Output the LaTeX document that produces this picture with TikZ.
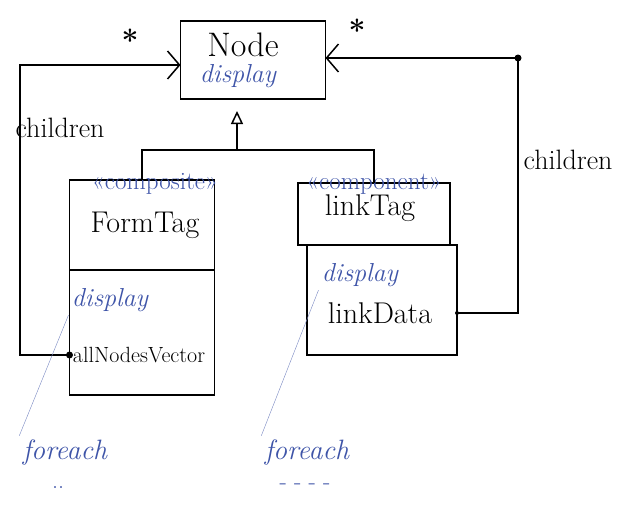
\documentclass[tikz,border=0pt]{standalone}
\usetikzlibrary{arrows.meta,positioning}
\definecolor{inkblue}{RGB}{62,84,168}
\tikzset{
  cls/.style={draw, line width=1.5pt, inner sep=0pt, outer sep=0pt},
  big/.style={font=\fontsize{30}{32}\selectfont},
  mid/.style={font=\fontsize{22}{24}\selectfont},
  blu/.style={text=inkblue, font=\fontsize{26}{28}\selectfont\itshape},
  stereo/.style={text=inkblue, font=\fontsize{25}{27}\selectfont},
  hand/.style={font=\fontsize{28}{30}\selectfont},
  assoc/.style={line width=1.5pt, -{Straight Barb[length=12pt,width=28pt]}},
  genz/.style={line width=1.5pt, -{Triangle[open,length=13pt,width=12pt]}, shorten >=12pt},
  note/.style={thin, inkblue!70},
}
\begin{document}
\begin{tikzpicture}[x=1pt, y=-1pt]
  \useasboundingbox (0,0) rectangle (623,506);

  % Klassen
  \node[cls, minimum width=145pt, minimum height=78pt] (nodecls) at (253,60) {};
  \node[cls, minimum width=145pt, minimum height=90pt] (formtop) at (142,225) {};
  \node[cls, minimum width=145pt, minimum height=125pt, below=0pt of formtop] (formbot) {};
  \node[cls, minimum width=152pt, minimum height=62pt] (linktop) at (374,214) {};
  \node[cls, minimum width=150pt, minimum height=110pt, below=0pt of linktop, xshift=8pt] (linkbot) {};

  % Texte
  \node[big, font=\fontsize{34}{36}\selectfont] (nodename) at (243,45) {Node};
  \node[blu] (nodeop) at (238,76) {display};
  \node[stereo] (formst) at (155,184) {«composite»};
  \node[big] (formname) at (145,225) {FormTag};
  \node[blu] (formop) at (110,300) {display};
  \node[mid] (formvec) at (139,355) {allNodesVector};
  \node[stereo] (linkst) at (374,184) {«component»};
  \node[big] (linkname) at (370,208) {linkTag};
  \node[blu] (linkop) at (360,275) {display};
  \node[big] (linkdat) at (380,313) {linkData};

  % Vererbung
  \coordinate (genj) at (237,150);
  \draw[line width=1.5pt] (formtop.north) |- (genj) -| (linktop.north);
  \draw[genz] (genj) -- (genj |- nodecls.south);

  % Assoziationen
  \coordinate (lbend) at (20,65);
  \coordinate (rbend) at (518,58);
  \draw[assoc] (formbot.west |- formvec) -| (lbend) -- (nodecls.west |- lbend);
  \draw[assoc] (linkbot.east |- linkdat) -| (rbend) -- (nodecls.east |- rbend);
  \fill (formbot.west |- formvec) circle (3.5pt);
  \fill (linkbot.east |- linkdat) circle (2pt);
  \fill (rbend) circle (3.5pt);
  \node[hand, font=\bfseries\fontsize{30}{32}\selectfont] (lstar) at (130,40) {*};
  \node[hand, font=\bfseries\fontsize{30}{32}\selectfont] (rstar) at (357,30) {*};
  \node[hand] (lchild) at (60,128) {children};
  \node[hand] (rchild) at (568,160) {children};

  % Notizen
  \node[blu, font=\fontsize{28}{30}\selectfont\itshape] (fe1) at (65,452) {foreach};
  \node[blu, font=\fontsize{28}{30}\selectfont\itshape] (fe2) at (307,452) {foreach};
  \node[blu, font=\fontsize{24}{24}\selectfont, inner sep=0pt] (dots1) at (58,488) {..};
  \node[blu, font=\fontsize{24}{24}\selectfont, inner sep=0pt] (dots2) at (305,487) {- - - -};
  \draw[note] (formop.south west) -- (fe1.north west);
  \draw[note] (linkop.south west) -- (fe2.north west);
\end{tikzpicture}
\end{document}
